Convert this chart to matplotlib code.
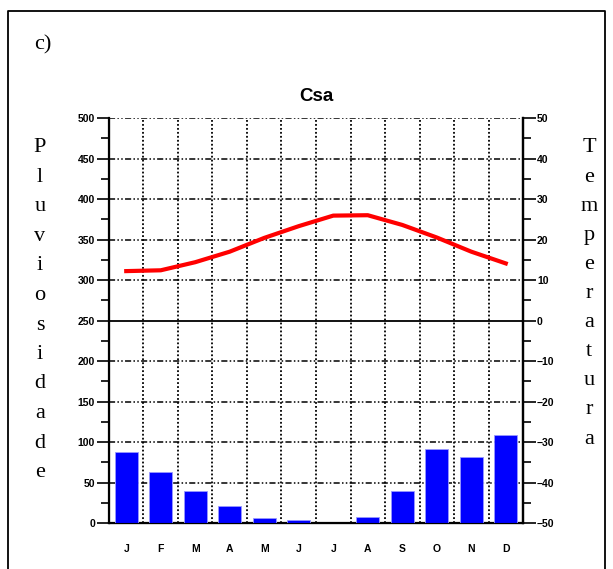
import numpy as np
import matplotlib.pyplot as plt
from matplotlib.lines import Line2D
from matplotlib.ticker import MultipleLocator

months = ['J', 'F', 'M', 'A', 'M', 'J', 'J', 'A', 'S', 'O', 'N', 'D']
precip = [88, 63, 40, 21, 6, 4, 0, 8, 40, 92, 81, 109]
temp = [12.2, 12.4, 14.4, 17.0, 20.4, 23.3, 25.9, 26.0, 23.6, 20.5, 17.0, 14.1]

title = "Csa"
left_label = "Pluviosidade"
right_label = "Temperatura"

tick_font = dict(family='Liberation Sans', weight='bold', size=7.5)

fig = plt.figure(figsize=(6.13, 5.69), dpi=100)
ax = fig.add_axes([0.1778, 0.0808, 0.6754, 0.7118])

x = np.arange(len(months))
ax.bar(x, precip, width=0.67, color='#0000ff', edgecolor='#9999ff', linewidth=0.6, zorder=3)
ax.set_xlim(-0.5, len(months) - 0.5)
ax.set_ylim(0, 500)

# grid: dash-dot-dot horizontal, dotted vertical at month boundaries
for yv in range(50, 501, 50):
    if yv == 250:
        ax.axhline(yv, color='black', lw=1.3, zorder=2)
    else:
        ax.axhline(yv, color='black', lw=1.1, ls=(0, (4, 1.5, 1, 1.5, 1, 1.5)), zorder=2)
for xv in np.arange(0.5, len(months) - 0.5, 1):
    ax.axvline(xv, color='black', lw=1.3, ls=(0, (1, 1.2)), zorder=2)

ax.spines['top'].set_visible(False)
for s in ['left', 'right', 'bottom']:
    ax.spines[s].set_linewidth(1.6)

ax.set_xticks(x)
ax.set_xticklabels(months, **tick_font)
ax.tick_params(axis='x', length=0, pad=15)
ax.yaxis.set_major_locator(MultipleLocator(50))
ax.yaxis.set_minor_locator(MultipleLocator(25))
ax.tick_params(axis='y', which='major', length=9, width=1.2, pad=1)
ax.tick_params(axis='y', which='minor', length=6, width=1.2)
for lab in ax.get_yticklabels():
    lab.set_family('Liberation Sans')
    lab.set_weight('bold')
    lab.set_size(7.5)

ax2 = ax.twinx()
ax2.plot(x, temp, color='red', lw=3, zorder=4, solid_joinstyle='round')
ax2.set_ylim(-50, 50)
ax2.spines['top'].set_visible(False)
ax2.spines['right'].set_linewidth(1.6)
ax2.yaxis.set_major_locator(MultipleLocator(10))
ax2.yaxis.set_minor_locator(MultipleLocator(5))
ax2.tick_params(axis='y', which='major', length=9, width=1.2, pad=1)
ax2.tick_params(axis='y', which='minor', length=6, width=1.2)
for lab in ax2.get_yticklabels():
    lab.set_family('Liberation Sans')
    lab.set_weight('bold')
    lab.set_size(7.5)

ax.set_title(title, family='Liberation Sans', weight='bold', size=13.5, pad=12)

# stacked vertical axis labels
for i, ch in enumerate(left_label):
    fig.text(40 / 613, 1 - (148 + i * 29.5) / 569, ch, family='Liberation Serif',
             size=16, ha='center', va='center')
for i, ch in enumerate(right_label):
    fig.text(589 / 613, 1 - (148 + i * 29.1) / 569, ch, family='Liberation Serif',
             size=16, ha='center', va='center')

fig.text(34 / 613, 1 - 45 / 569, "c)", family='Liberation Serif', size=16, ha='left', va='center')

# frame around the panel
x0, x1, y1 = 7.5 / 613, 604.5 / 613, 1 - 10.5 / 569
fig.add_artist(Line2D([x0, x0, x1, x1], [0, y1, y1, 0], color='black', lw=1.3,
                      transform=fig.transFigure))

fig.savefig('out.png', dpi=100)
